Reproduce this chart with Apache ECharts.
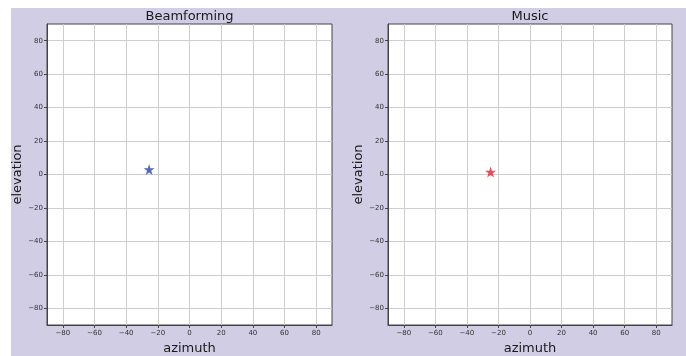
<!DOCTYPE html>
<html>
<head>
<meta charset="utf-8">
<script src="https://cdn.jsdelivr.net/npm/echarts@6/dist/echarts.min.js"></script>
<style>
  html, body { margin: 0; padding: 0; background: #ffffff; }
  #chart { width: 686px; height: 356px; }
</style>
</head>
<body>
<div id="chart"></div>
<script>
// Panel titles and estimated source directions (azimuth, elevation) in degrees
const panelTitles = ['Beamforming', 'Music'];
const beamformingPoint = [[-25.5, 3]];
const musicPoint = [[-25, 1.5]];
const tickValues = [-80, -60, -40, -20, 0, 20, 40, 60, 80];
const axisMin = -90;
const axisMax = 90;
const xAxisTitle = 'azimuth';
const yAxisTitle = 'elevation';

// five-pointed star marker
const STAR = 'path://M50,0 L61.2,34.5 L97.6,34.5 L68.2,55.9 L79.4,90.5 L50,69.1 L20.6,90.5 L31.8,55.9 L2.4,34.5 L38.8,34.5 Z';

const FONT = 'DejaVu Sans';
const fmt = v => String(v).replace('-', '\u2212');

const grids = [
  { left: 47, top: 24, width: 285, height: 301 },
  { left: 388, top: 24, width: 284, height: 301 }
];

function makeAxis(kind, idx) {
  return {
    type: 'value',
    gridIndex: idx,
    min: axisMin,
    max: axisMax,
    name: kind === 'x' ? xAxisTitle : yAxisTitle,
    nameLocation: 'middle',
    nameGap: kind === 'x' ? 14 : 21,
    nameTextStyle: { fontFamily: FONT, fontSize: 13, color: '#1a1a1a' },
    axisLine: { show: true, onZero: false, lineStyle: { color: '#444', width: 1 } },
    axisTick: { show: true, inside: false, length: 3, customValues: tickValues, lineStyle: { color: '#444' } },
    axisLabel: {
      customValues: tickValues, formatter: fmt,
      fontFamily: FONT, fontSize: 7, color: '#333', margin: kind === 'x' ? 5 : 4
    },
    splitLine: { show: true, lineStyle: { color: '#cdcdcd', width: 1 } }
  };
}

const chart = echarts.init(document.getElementById('chart'), null, { renderer: 'canvas' });
chart.setOption({
  animation: false,
  backgroundColor: '#ffffff',
  graphic: [{
    type: 'rect', z: -10, silent: true,
    shape: { x: 11, y: 8, width: 675, height: 348 },
    style: { fill: '#d1cde4' }
  }],
  title: panelTitles.map((t, i) => ({
    text: t,
    left: grids[i].left + grids[i].width / 2,
    textAlign: 'center',
    top: 10,
    padding: 0,
    textStyle: { fontFamily: FONT, fontSize: 13, fontWeight: 'normal', color: '#1a1a1a' }
  })),
  grid: grids.map(g => Object.assign({
    show: true, backgroundColor: '#ffffff', borderColor: '#444', borderWidth: 1,
    containLabel: false, outerBoundsMode: 'none'
  }, g)),
  xAxis: [makeAxis('x', 0), makeAxis('x', 1)],
  yAxis: [makeAxis('y', 0), makeAxis('y', 1)],
  series: [
    {
      type: 'scatter', xAxisIndex: 0, yAxisIndex: 0,
      data: beamformingPoint, symbol: STAR, symbolSize: 11,
      itemStyle: { color: '#2a45a0' }
    },
    {
      type: 'scatter', xAxisIndex: 1, yAxisIndex: 1,
      data: musicPoint, symbol: STAR, symbolSize: 11,
      itemStyle: { color: '#e3202b' }
    }
  ]
});
</script>
</body>
</html>
